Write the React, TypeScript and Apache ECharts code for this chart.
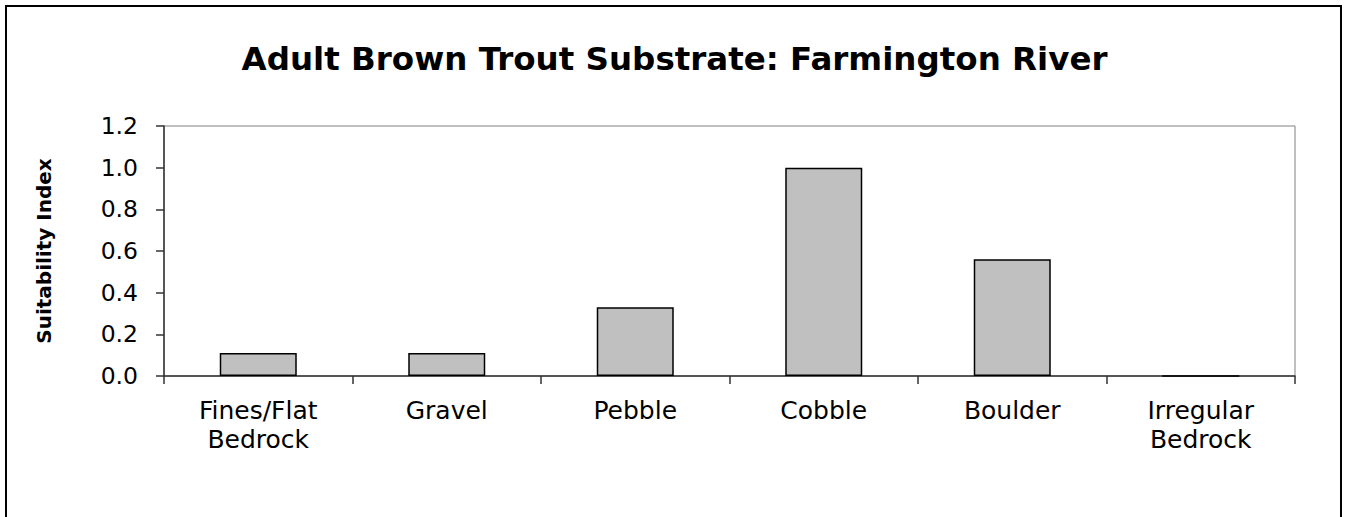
import React, { useEffect, useRef } from "react";
import * as echarts from "echarts";

const titleText = "Adult Brown Trout Substrate: Farmington River";
const yAxisTitle = "Suitability Index";
const categories = ["Fines/Flat\nBedrock", "Gravel", "Pebble", "Cobble", "Boulder", "Irregular\nBedrock"];
const suitability = [0.11, 0.11, 0.33, 1.0, 0.56, 0];
const yMin = 0;
const yMax = 1.2;
const yStep = 0.2;

export default function App() {
  const ref = useRef<HTMLDivElement>(null);
  useEffect(() => {
    if (!ref.current) return;
    const chart = echarts.init(ref.current, null, { renderer: "svg" });
    const font = "DejaVu Sans, Liberation Sans, Arial, sans-serif";
    chart.setOption({
      animation: false,
      backgroundColor: "#ffffff",
      title: {
        text: titleText,
        left: "center",
        top: 42,
        padding: 0,
        textStyle: { fontFamily: font, fontSize: 32.5, fontWeight: "bold", color: "#000" },
      },
      graphic: [
        {
          type: "rect",
          shape: { x: 6, y: 6, width: 1335, height: 530 },
          style: { fill: "none", stroke: "#000", lineWidth: 2 },
          silent: true,
        },
      ],
      grid: {
        left: 164,
        top: 126,
        width: 1131,
        height: 250,
        show: true,
        borderColor: "#808080",
        borderWidth: 1,
        backgroundColor: "transparent",
      },
      xAxis: {
        type: "category",
        data: categories,
        axisLine: { show: true, lineStyle: { color: "#333", width: 1.5 } },
        axisTick: { show: true, length: 8, lineStyle: { color: "#333", width: 1.5 } },
        axisLabel: { fontFamily: font, fontSize: 25, color: "#000", margin: 20, lineHeight: 29, interval: 0 },
      },
      yAxis: {
        type: "value",
        min: yMin,
        max: yMax,
        interval: yStep,
        name: yAxisTitle,
        nameLocation: "middle",
        nameRotate: 90,
        nameGap: 110,
        nameTextStyle: { fontFamily: font, fontSize: 20, fontWeight: "bold", color: "#000" },
        axisLine: { show: true, lineStyle: { color: "#333", width: 1.5 } },
        axisTick: { show: true, length: 8, lineStyle: { color: "#333", width: 1.5 } },
        splitLine: { show: false },
        axisLabel: {
          fontFamily: font,
          fontSize: 23.5,
          color: "#000",
          margin: 26,
          formatter: (v: number) => v.toFixed(1),
        },
      },
      series: [
        {
          type: "bar",
          data: suitability,
          barWidth: 77,
          itemStyle: { color: "#c0c0c0", borderColor: "#000", borderWidth: 1.5 },
        },
      ],
    });
    return () => chart.dispose();
  }, []);
  return (
    <div
      ref={ref}
      style={{ position: "fixed", left: 0, top: 0, width: 1349, height: 517 }}
    />
  );
}
